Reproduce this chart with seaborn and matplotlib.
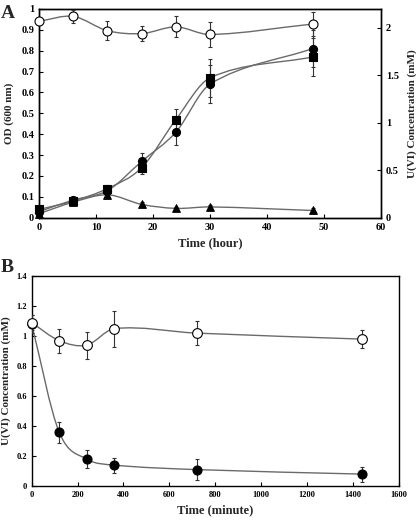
import numpy as np
import pandas as pd
import matplotlib
matplotlib.use("Agg")
import matplotlib.pyplot as plt
from matplotlib.path import Path
from matplotlib.patches import PathPatch
import seaborn as sns

# ---------------- data: panel A ----------------
hours = [0, 6, 12, 18, 24, 30, 48]
od_circle = [0.03, 0.085, 0.13, 0.27, 0.41, 0.64, 0.81]
od_circle_err = [0.01, 0.015, 0.015, 0.04, 0.06, 0.09, 0.09]
od_square = [0.04, 0.08, 0.14, 0.24, 0.47, 0.67, 0.77]
od_square_err = [0.01, 0.015, 0.015, 0.03, 0.05, 0.09, 0.09]
od_triangle = [0.02, 0.075, 0.11, 0.064, 0.045, 0.052, 0.035]
od_triangle_err = [0.005, 0.01, 0.015, 0.012, 0.008, 0.008, 0.012]
uvi_open = [2.07, 2.12, 1.97, 1.94, 2.01, 1.93, 2.04]
uvi_open_err = [0.0, 0.07, 0.10, 0.08, 0.11, 0.13, 0.13]

# ---------------- data: panel B ----------------
minutes = [0, 120, 240, 360, 720, 1440]
b_open = [1.09, 0.97, 0.94, 1.05, 1.02, 0.98]
b_open_err = [0.05, 0.08, 0.09, 0.12, 0.08, 0.06]
b_filled = [1.08, 0.36, 0.18, 0.14, 0.11, 0.08]
b_filled_err = [0.06, 0.07, 0.06, 0.05, 0.07, 0.05]

sns.set_theme(style="ticks")
plt.rcParams['font.family'] = ['Liberation Serif', 'DejaVu Serif']
plt.rcParams['font.weight'] = 'bold'

LINE = "#6a6a6a"


def smooth_line(ax, x, y):
    """Smooth cubic Hermite (bezier) curve drawn through the data points."""
    x = np.asarray(x, float)
    y = np.asarray(y, float)
    n = len(x)
    m = np.empty(n)
    m[0] = (y[1] - y[0]) / (x[1] - x[0])
    m[-1] = (y[-1] - y[-2]) / (x[-1] - x[-2])
    for i in range(1, n - 1):
        m[i] = (y[i + 1] - y[i - 1]) / (x[i + 1] - x[i - 1])
    verts = [(x[0], y[0])]
    codes = [Path.MOVETO]
    for i in range(n - 1):
        h = x[i + 1] - x[i]
        c1 = (x[i] + h / 3.0, y[i] + m[i] * h / 3.0)
        c2 = (x[i + 1] - h / 3.0, y[i + 1] - m[i + 1] * h / 3.0)
        verts += [c1, c2, (x[i + 1], y[i + 1])]
        codes += [Path.CURVE4] * 3
    patch = PathPatch(Path(verts, codes), facecolor='none', edgecolor=LINE,
                      lw=1.0, zorder=2)
    ax.add_patch(patch)


def series(ax, x, y, err, marker, face, size=6.0):
    smooth_line(ax, x, y)
    ax.errorbar(x, y, yerr=err, fmt='none', ecolor='#333333', elinewidth=0.8,
                capsize=1.5, capthick=0.8, zorder=3)
    df = pd.DataFrame({'x': x, 'y': y})
    sns.scatterplot(data=df, x='x', y='y', ax=ax, marker=marker, s=size ** 2,
                    color=face, edgecolor='black', linewidth=0.8, zorder=4,
                    legend=False, clip_on=False)


def style_axis(ax, fs):
    for s in ax.spines.values():
        s.set_linewidth(1.0)
        s.set_color('black')
    ax.tick_params(direction='in', length=3, width=0.8, labelsize=fs,
                   colors='black')
    for lab in ax.get_xticklabels() + ax.get_yticklabels():
        lab.set_fontweight('bold')


fig = plt.figure(figsize=(4.16, 5.21), dpi=100)

# ---------- Panel A ----------
axA = fig.add_axes([0.094, 0.582, 0.822, 0.401])
axA2 = axA.twinx()
series(axA, hours, od_triangle, od_triangle_err, '^', 'black', 5.5)
series(axA, hours, od_square, od_square_err, 's', 'black', 5.8)
series(axA, hours, od_circle, od_circle_err, 'o', 'black', 5.8)
series(axA2, hours, uvi_open, uvi_open_err, 'o', 'white', 6.5)

axA.set_xlim(0, 60)
axA.set_ylim(0, 1.0)
axA.set_xticks([0, 10, 20, 30, 40, 50, 60])
axA.set_yticks(np.round(np.arange(0, 1.01, 0.1), 1))
axA.set_yticklabels(['0'] + [f'{v:.1f}' for v in np.arange(0.1, 0.95, 0.1)] + ['1'])
axA2.set_ylim(0, 2.2)
axA2.set_yticks([0, 0.5, 1, 1.5, 2])
axA2.set_yticklabels(['0', '0.5', '1', '1.5', '2'])
axA.set_xlabel('Time (hour)', fontsize=9, fontweight='bold', labelpad=4)
axA.set_ylabel('OD (600 nm)', fontsize=8, fontweight='bold', labelpad=5)
axA2.set_ylabel('U(VI) Concentration (mM)', fontsize=8, fontweight='bold', labelpad=6)
style_axis(axA, 7.5)
style_axis(axA2, 7.5)
axA2.set_xlim(0, 60)

# ---------- Panel B ----------
axB = fig.add_axes([0.076, 0.067, 0.883, 0.403])
series(axB, minutes, b_filled, b_filled_err, 'o', 'black', 6.5)
series(axB, minutes, b_open, b_open_err, 'o', 'white', 7)
axB.set_xlim(0, 1600)
axB.set_ylim(0, 1.4)
axB.set_xticks(range(0, 1601, 200))
axB.set_yticks([0, 0.2, 0.4, 0.6, 0.8, 1.0, 1.2, 1.4])
axB.set_yticklabels(['0', '0.2', '0.4', '0.6', '0.8', '1', '1.2', '1.4'])
axB.set_xlabel('Time (minute)', fontsize=9, fontweight='bold', labelpad=4)
axB.set_ylabel('U(VI) Concentration (mM)', fontsize=8, fontweight='bold', labelpad=4)
style_axis(axB, 6)

fig.text(0.002, 0.975, 'A', fontsize=14, fontweight='bold', va='center', ha='left')
fig.text(0.002, 0.487, 'B', fontsize=14, fontweight='bold', va='center', ha='left')

fig.savefig('out.png', dpi=100)
